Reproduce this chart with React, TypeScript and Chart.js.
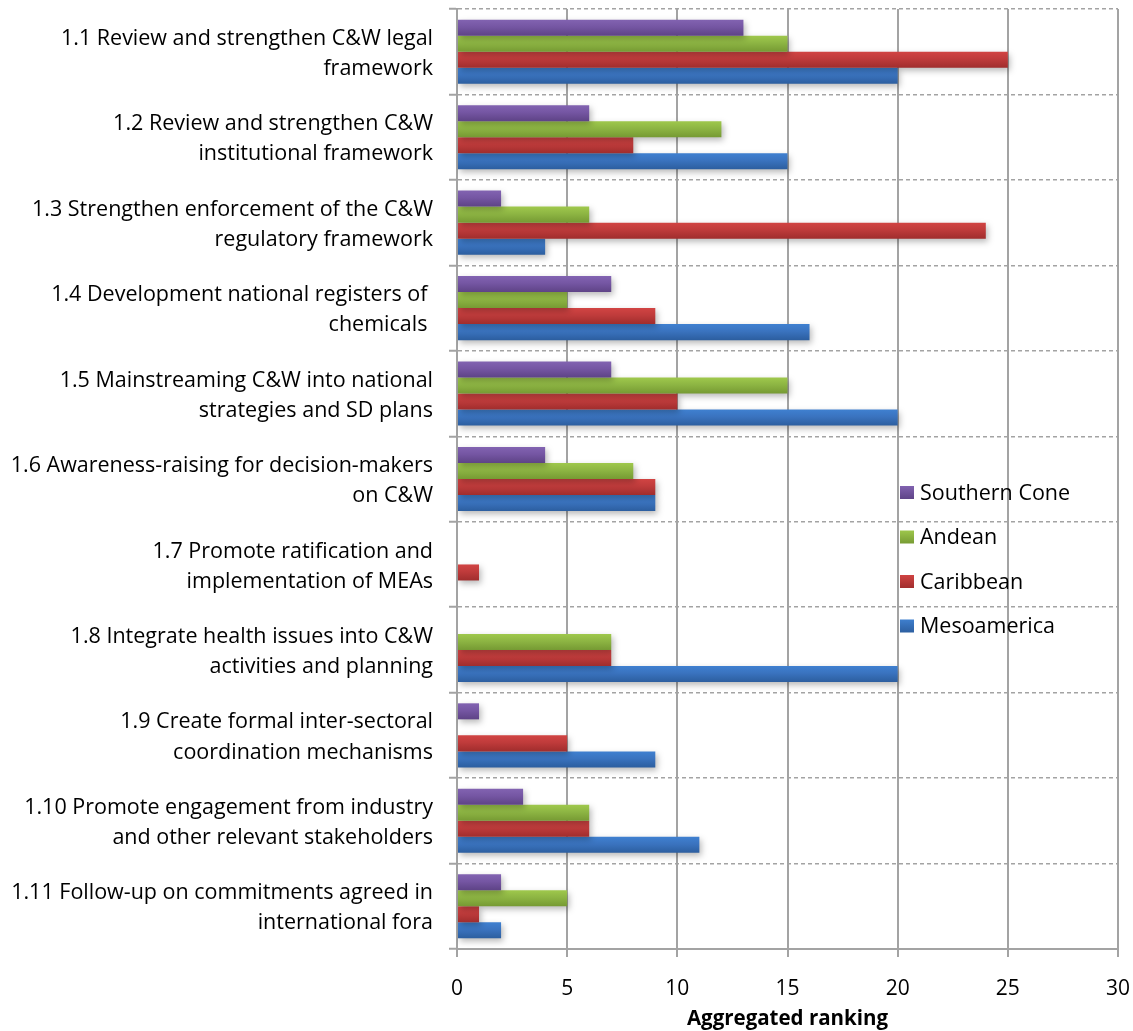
import React, { useEffect, useRef } from "react";
import { Chart, registerables } from "chart.js";

Chart.register(...registerables);

const categories: string[][] = [
  ["1.1 Review and strengthen C&W legal", "framework"],
  ["1.2 Review and strengthen C&W", "institutional framework"],
  ["1.3 Strengthen enforcement of the C&W", "regulatory framework"],
  ["1.4 Development national registers of ", "chemicals "],
  ["1.5 Mainstreaming C&W into national", "strategies and SD plans"],
  ["1.6 Awareness-raising for decision-makers", "on C&W"],
  ["1.7 Promote ratification and", "implementation of MEAs"],
  ["1.8 Integrate health issues into C&W", "activities and planning"],
  ["1.9 Create formal inter-sectoral", "coordination mechanisms"],
  ["1.10 Promote engagement from industry", "and other relevant stakeholders"],
  ["1.11 Follow-up on commitments agreed in", "international fora"],
];

const southernCone = [13, 6, 2, 7, 7, 4, 0, 0, 1, 3, 2];
const andean = [15, 12, 6, 5, 15, 8, 0, 7, 0, 6, 5];
const caribbean = [25, 8, 24, 9, 10, 9, 1, 7, 5, 6, 1];
const mesoamerica = [20, 15, 4, 16, 20, 9, 0, 20, 9, 11, 2];

const seriesNames = ["Southern Cone", "Andean", "Caribbean", "Mesoamerica"];
const xTicks = [0, 5, 10, 15, 20, 25, 30];
const axisTitle = "Aggregated ranking";

const palette = [
  { mid: "#7556a3", top: "#8263b1", bot: "#5e4386" },
  { mid: "#8db543", top: "#9fc84c", bot: "#769a33" },
  { mid: "#bf3b3b", top: "#d14443", bot: "#a02d2d" },
  { mid: "#3a73bf", top: "#3f80d0", bot: "#2c5e9f" },
];

const FONT = "'Open Sans', Lato, sans-serif";

export default function App() {
  const ref = useRef<HTMLCanvasElement | null>(null);

  useEffect(() => {
    if (!ref.current) return;
    const values = [southernCone, andean, caribbean, mesoamerica];

    const barStyle = {
      id: "barStyle",
      beforeDatasetsDraw(chart: any) {
        const ctx = chart.ctx;
        chart.data.datasets.forEach((_: any, di: number) => {
          const meta = chart.getDatasetMeta(di);
          const p = palette[di];
          meta.data.forEach((el: any) => {
            const h = el.height || 16;
            const y0 = el.y - h / 2;
            const g = ctx.createLinearGradient(0, y0, 0, y0 + h);
            g.addColorStop(0, p.top);
            g.addColorStop(0.45, p.mid);
            g.addColorStop(1, p.bot);
            el.options = { ...el.options, backgroundColor: g };
          });
        });
        ctx.save();
        ctx.shadowColor = "rgba(0,0,0,0.28)";
        ctx.shadowBlur = 6;
        ctx.shadowOffsetX = 2;
        ctx.shadowOffsetY = 3;
      },
      afterDatasetsDraw(chart: any) {
        chart.ctx.restore();
      },
    };

    const legendPlugin = {
      id: "customLegend",
      afterDraw(chart: any) {
        const ctx = chart.ctx;
        const x = 900;
        const ys = [492.5, 537, 581.5, 626];
        ctx.save();
        ctx.font = `21.5px ${FONT}`;
        ctx.textBaseline = "middle";
        ctx.textAlign = "left";
        seriesNames.forEach((name, i) => {
          const p = palette[i];
          const g = ctx.createLinearGradient(0, ys[i] - 7, 0, ys[i] + 7);
          g.addColorStop(0, p.top);
          g.addColorStop(1, p.bot);
          ctx.fillStyle = g;
          ctx.fillRect(x, ys[i] - 6.5, 14, 13);
          ctx.fillStyle = "#000";
          ctx.fillText(name, x + 20, ys[i] + 1);
        });
        ctx.restore();
      },
    };

    const chart = new Chart(ref.current, {
      type: "bar",
      data: {
        labels: categories,
        datasets: seriesNames.map((name, i) => ({
          label: name,
          data: values[i],
          backgroundColor: palette[i].mid,
          borderWidth: 0,
          barPercentage: 1,
          categoryPercentage: 0.75,
        })),
      },
      options: {
        indexAxis: "y",
        animation: false,
        responsive: false,
        layout: { padding: { left: 0, top: 9, right: 15, bottom: 0 } },
        plugins: {
          legend: { display: false },
          tooltip: { enabled: false },
        },
        scales: {
          x: {
            min: 0,
            max: 30,
            afterBuildTicks(scale: any) {
              scale.ticks = xTicks.map((v) => ({ value: v }));
            },
            afterFit(scale: any) {
              scale.height = 82;
              scale.paddingLeft = 0;
              scale.paddingRight = 0;
            },
            grid: {
              color: "#a3a3a3",
              lineWidth: 2,
              tickLength: 8,
              drawTicks: true,
            },
            border: { display: true, color: "#a3a3a3", width: 2 },
            ticks: {
              color: "#000",
              font: { family: FONT, size: 21 },
              padding: 19,
            },
            title: {
              display: true,
              text: axisTitle,
              color: "#000",
              font: { family: FONT, size: 20.5, weight: "bold" },
              padding: { top: 0, bottom: 0 },
            },
          },
          y: {
            afterFit(scale: any) {
              scale.width = 457;
              scale.paddingTop = 0;
              scale.paddingBottom = 0;
            },
            grid: {
              offset: true,
              color: "#a3a3a3",
              lineWidth: 1.5,
              tickLength: 8,
              tickColor: "#a3a3a3",
              tickWidth: 2,
            },
            border: { display: true, color: "#a3a3a3", width: 2, dash: [4, 3] },
            ticks: {
              color: "#000",
              font: { family: FONT, size: 21.5, lineHeight: 1.4 },
              padding: 16,
              labelOffset: 2,
              autoSkip: false,
            },
          },
        },
      },
      plugins: [barStyle, legendPlugin],
    } as any);

    return () => chart.destroy();
  }, []);

  return (
    <div style={{ position: "absolute", left: 0, top: 0, width: 1133, height: 1031, background: "#fff" }}>
      <canvas ref={ref} width={1133} height={1031} />
    </div>
  );
}
